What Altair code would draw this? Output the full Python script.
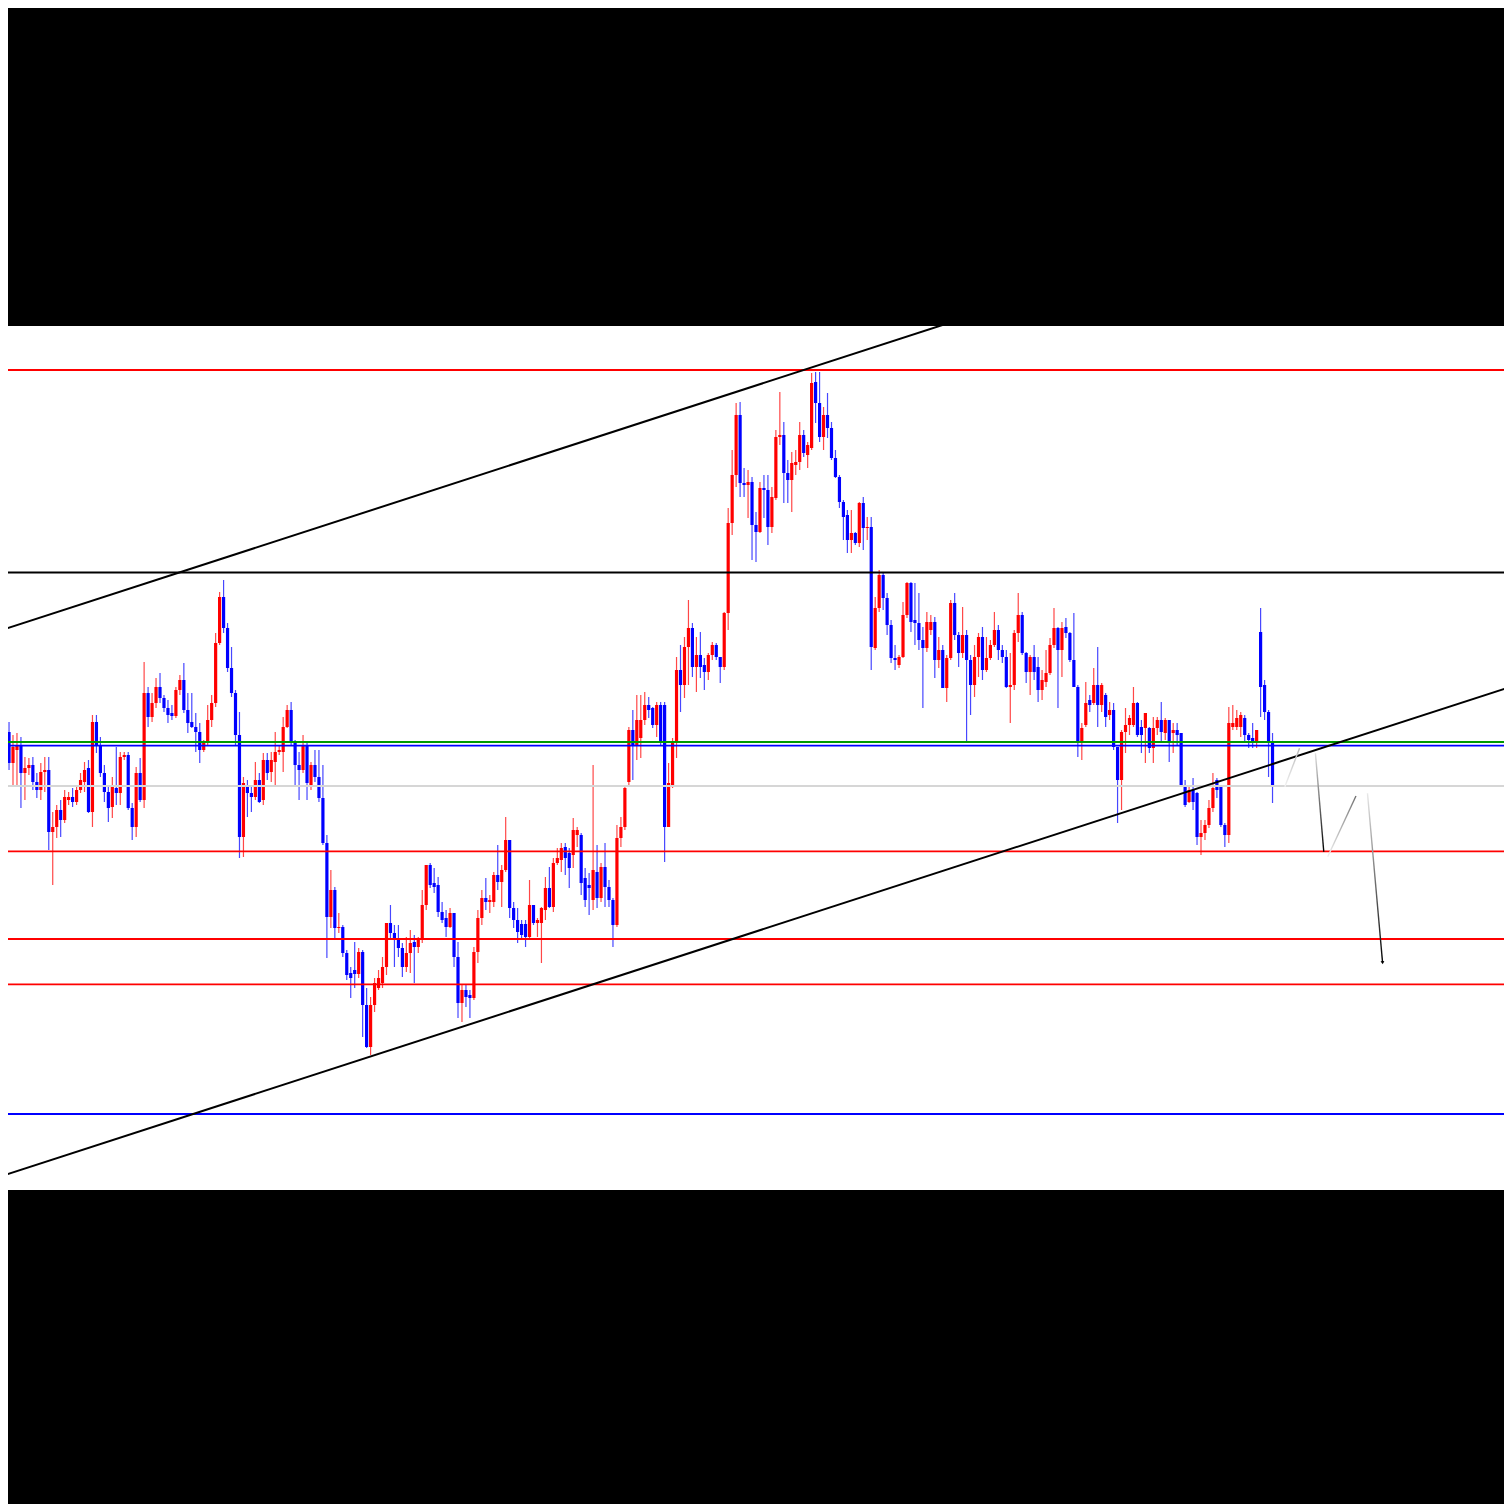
import altair as alt
import pandas as pd

# ---- candle data (price in points) ----
opens = [477,458,427,440,445,417,422,425,408,400,418,420,358,363,380,370,390,393,388,400,
         408,422,378,468,445,417,398,383,402,397,433,435,382,363,417,390,497,473,487,503,
         492,482,477,474,500,510,480,468,463,458,440,447,470,487,547,593,562,522,497,455,
         353,405,397,393,410,390,430,418,428,438,438,463,480,447,425,420,445,403,425,413,
         392,347,273,300,262,263,237,217,220,216,238,185,143,185,202,207,223,267,257,250,
         242,223,237,248,243,250,285,325,307,305,278,272,263,277,233,187,200,195,192,238,
         272,292,288,288,315,308,320,350,282,270,266,266,253,285,267,267,280,302,283,327,
         330,343,337,335,355,355,312,305,290,318,292,323,303,290,265,352,363,408,460,445,
         452,470,485,482,465,485,485,363,405,447,520,505,543,562,523,535,525,518,535,545,
         533,523,577,667,715,775,707,705,708,665,658,702,700,663,692,753,755,717,710,725,
         728,755,735,742,808,787,753,775,762,732,713,688,675,650,657,647,687,662,663,542,
         582,615,592,565,532,525,533,575,607,570,567,550,542,560,568,530,540,502,532,587,
         555,537,555,530,505,533,553,520,532,545,560,540,533,503,505,557,575,537,518,533,
         523,500,508,517,545,562,540,563,557,530,503,448,465,490,487,505,485,495,475,480,
         443,410,458,465,465,487,463,462,462,442,462,470,457,470,457,460,457,405,388,400,
         397,353,357,365,382,410,403,365,355,463,463,463,472,455,452,447,558,505,478,447]
closes = [458,427,443,445,417,422,425,408,400,418,420,358,363,380,370,393,393,388,400,410,
          420,378,468,445,417,398,382,403,397,433,435,382,363,417,390,497,473,487,503,492,
          482,475,474,500,510,480,467,463,458,440,447,470,487,547,593,562,522,497,455,353,
          407,397,393,410,388,430,417,430,438,440,463,480,447,425,420,445,407,425,413,392,
          347,273,300,262,263,237,215,212,216,238,185,143,185,207,212,223,267,257,250,242,
          223,237,247,243,250,285,325,305,303,278,270,263,277,233,187,200,193,192,238,272,
          292,288,290,315,308,320,350,282,270,258,255,253,285,267,270,282,302,283,327,332,
          342,332,322,360,360,307,290,302,320,292,323,303,290,265,352,363,402,460,445,470,
          470,485,480,465,485,447,363,407,447,520,505,543,562,523,535,523,518,535,545,533,
          523,577,667,715,775,707,705,708,665,658,702,700,663,693,753,755,717,710,727,728,
          755,737,745,807,787,753,775,762,732,713,688,673,650,657,647,687,662,663,543,582,
          615,592,565,532,530,533,575,607,568,567,550,542,568,568,530,540,502,532,587,555,
          537,555,530,505,533,553,520,532,545,560,540,533,503,505,557,575,537,518,533,518,
          500,510,517,545,562,540,562,557,530,503,448,462,487,485,505,485,505,473,480,443,
          410,458,465,472,487,455,455,477,442,462,470,458,470,447,460,455,405,385,400,388,
          353,357,365,382,402,400,365,355,467,467,472,475,455,450,448,460,503,478,447,403]
highs = [500,468,455,457,453,433,432,433,417,427,433,433,378,385,390,400,398,402,405,417,
         428,430,475,475,453,425,405,413,443,438,438,438,387,423,432,528,503,497,512,517,
         495,490,485,503,515,527,497,497,477,467,450,485,495,557,598,610,567,543,500,478,
         413,410,403,428,417,437,437,438,458,445,473,485,488,450,438,455,448,428,440,440,
         425,355,320,303,277,265,240,223,248,242,240,202,193,212,220,233,267,285,265,265,
         247,253,260,255,253,300,325,327,322,313,288,280,282,277,248,205,205,200,243,280,
         300,312,295,318,345,325,373,350,288,282,270,270,310,285,272,283,313,323,332,342,
         347,347,342,372,363,357,322,317,425,345,327,347,310,292,365,373,405,463,480,495,
         495,498,493,483,488,488,488,427,452,533,545,553,590,567,553,558,532,537,548,547,
         533,578,682,740,787,788,722,720,713,678,708,715,715,703,760,798,768,730,738,740,
         768,760,748,817,818,818,783,797,768,740,715,690,680,680,658,688,693,673,673,593,
         620,617,597,570,545,535,588,608,608,607,597,563,578,575,573,553,545,535,590,597,
         558,583,560,535,545,557,563,553,550,578,565,545,540,537,560,597,578,538,535,545,
         533,520,540,552,582,563,568,572,558,577,505,467,508,495,522,543,507,497,488,487,
         443,460,482,475,503,488,470,477,463,473,473,488,472,470,467,467,457,410,403,412,
         398,370,370,390,417,412,405,367,483,485,480,478,475,457,467,460,582,510,480,457]
lows = [440,420,403,403,382,390,415,400,392,390,398,340,305,352,353,367,385,383,385,397,
        398,377,363,437,413,388,368,372,385,385,430,380,350,353,388,382,463,468,482,487,
        478,467,470,472,495,477,457,462,438,427,438,445,463,483,545,557,518,493,445,332,
        333,373,378,390,387,385,410,408,403,435,418,462,445,405,390,417,390,400,408,388,
        345,232,262,252,257,233,210,192,202,212,153,142,135,178,200,202,215,250,223,233,
        213,218,217,207,237,247,280,302,297,273,267,253,262,223,172,168,183,172,190,227,
        265,280,277,283,300,283,318,272,262,247,252,243,252,265,253,227,270,282,278,325,
        318,315,302,322,343,295,283,275,280,282,288,283,283,243,263,343,360,405,410,430,
        432,465,472,462,453,445,328,363,402,432,478,492,505,513,498,512,500,510,530,530,
        507,520,560,655,703,693,693,672,630,628,657,672,645,657,690,745,687,687,678,715,
        720,733,722,740,767,748,740,752,730,712,682,650,637,637,645,643,640,650,520,540,
        578,580,555,527,520,522,532,572,558,545,540,482,538,555,512,522,502,488,530,550,
        523,532,448,475,493,513,510,518,530,543,530,527,502,467,500,548,535,507,495,510,
        488,490,503,515,542,482,513,552,528,503,433,430,463,478,485,463,478,463,470,440,
        367,380,437,455,463,453,437,427,437,427,455,447,450,428,437,445,403,383,387,380,
        345,335,350,362,378,392,363,343,347,460,460,453,447,442,442,442,473,470,413,387]

# ---- drawn objects ----
level_prices = [820, 617.5, 448, 444.3, 404, 338.7, 251, 205.7, 76]
level_colors = ["#ff0000", "#000000", "#009a00", "#0000ff", "#d6d6d6",
                "#ff0000", "#ff0000", "#ff0000", "#0000ff"]

trend_i0 = [0, 0]
trend_p0 = [561, 15]
trend_i1 = [378, 378]
trend_p1 = [1048, 502]

proj_i0 = [322.1, 329.8, 332.9, 342.9]
proj_p0 = [403.3, 436.7, 333.3, 396.7]
proj_i1 = [325.8, 331.9, 340.0, 346.7]
proj_p1 = [441.7, 338.3, 394.0, 227.3]
proj_top_col = ["#b8b8b8", "#e0e0e0", "#707070", "#e8e8e8"]
proj_bot_col = ["#f2f2f2", "#000000", "#f0f0f0", "#000000"]

n = len(opens)
df = pd.DataFrame({"i": list(range(n)), "open": opens, "close": closes,
                   "high": highs, "low": lows})
df["dir"] = ["up" if c >= o else "down" for o, c in zip(opens, closes)]

xs = alt.Scale(domain=[2, 376], nice=False, zero=False)
ys = alt.Scale(domain=[0, 864], nice=False, zero=False)
dir_color = alt.Color("dir:N", scale=alt.Scale(domain=["up", "down"],
                                                range=["#ff0000", "#0000ff"]), legend=None)

base = alt.Chart(df)
wicks = base.mark_rule(strokeWidth=1.2, opacity=0.72, clip=True).encode(
    x=alt.X("i:Q", scale=xs, axis=None),
    y=alt.Y("low:Q", scale=ys, axis=None),
    y2="high:Q",
    color=dir_color,
)
bodies = base.mark_bar(size=3.2, clip=True).encode(
    x=alt.X("i:Q", scale=xs, axis=None),
    y=alt.Y("open:Q", scale=ys, axis=None),
    y2="close:Q",
    color=dir_color,
)

level_layers = []
for p, c in zip(level_prices, level_colors):
    lvl = pd.DataFrame({"price": [p]})
    level_layers.append(
        alt.Chart(lvl).mark_rule(strokeWidth=1.8, color=c, clip=True).encode(
            y=alt.Y("price:Q", scale=ys, axis=None),
        )
    )

tr = pd.DataFrame({"i0": trend_i0, "p0": trend_p0, "i1": trend_i1, "p1": trend_p1})
trends = alt.Chart(tr).mark_rule(strokeWidth=2, color="black", clip=True).encode(
    x=alt.X("i0:Q", scale=xs, axis=None),
    x2="i1:Q",
    y=alt.Y("p0:Q", scale=ys, axis=None),
    y2="p1:Q",
)

proj_layers = []
for k in range(len(proj_i0)):
    seg = pd.DataFrame({"i0": [proj_i0[k]], "p0": [proj_p0[k]],
                        "i1": [proj_i1[k]], "p1": [proj_p1[k]]})
    grad = alt.LinearGradient(
        gradient="linear",
        stops=[alt.GradientStop(offset=0, color=proj_top_col[k]),
               alt.GradientStop(offset=1, color=proj_bot_col[k])],
        x1=0, x2=0, y1=0, y2=1,
    )
    proj_layers.append(
        alt.Chart(seg).mark_rule(strokeWidth=1.4, stroke=grad, clip=True).encode(
            x=alt.X("i0:Q", scale=xs, axis=None),
            x2="i1:Q",
            y=alt.Y("p0:Q", scale=ys, axis=None),
            y2="p1:Q",
        )
    )

tip = pd.DataFrame({"i": [proj_i1[-1]], "p": [proj_p1[-1]]})
arrow = alt.Chart(tip).mark_point(shape="triangle-down", size=14, filled=True,
                                  color="black", opacity=1, angle=355).encode(
    x=alt.X("i:Q", scale=xs, axis=None),
    y=alt.Y("p:Q", scale=ys, axis=None),
)

chart = alt.layer(wicks, bodies, *level_layers, trends, *proj_layers, arrow).properties(
    width=1496,
    height=864,
    padding={"top": 318, "bottom": 314, "left": 0, "right": 0},
    background="#000000",
).configure_view(fill="#ffffff", strokeWidth=0)

chart.save("out.html", embed_options={"renderer": "svg", "actions": False})
